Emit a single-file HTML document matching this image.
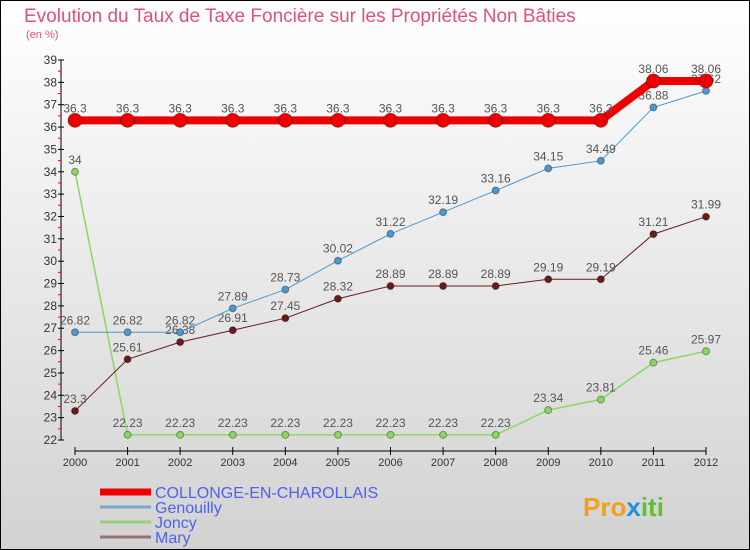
<!DOCTYPE html>
<html><head><meta charset="utf-8"><style>
body{margin:0;}
#wrap{position:relative;width:750px;height:550px;overflow:hidden;background:linear-gradient(#ffffff,#d2d2d2);font-family:"Liberation Sans",sans-serif;}
svg text{font-family:"Liberation Sans",sans-serif;}
</style></head><body>
<div id="wrap">
<svg id="svg" width="750" height="550">
<rect x="0.5" y="0.5" width="749" height="549" fill="none" stroke="#000"/>
<text x="24" y="22" font-size="19" fill="#e0507a">Evolution du Taux de Taxe Foncière sur les Propriétés Non Bâties</text>
<text x="26" y="38" font-size="11" fill="#e0507a">(en %)</text>
<g id="axes"></g><g id="series"></g><g id="legend"></g>
<text x="583" y="516" font-size="26" font-weight="bold" fill="#f0a020">Pro<tspan fill="#2090e0">x</tspan><tspan fill="#60c030">iti</tspan></text>
</svg>
</div>
<script>
const years=[2000,2001,2002,2003,2004,2005,2006,2007,2008,2009,2010,2011,2012];
const collonge=[36.3,36.3,36.3,36.3,36.3,36.3,36.3,36.3,36.3,36.3,36.3,38.06,38.06];
const genouilly=[26.82,26.82,26.82,27.89,28.73,30.02,31.22,32.19,33.16,34.15,34.49,36.88,37.62];
const joncy=[34,22.23,22.23,22.23,22.23,22.23,22.23,22.23,22.23,23.34,23.81,25.46,25.97];
const mary=[23.3,25.61,26.38,26.91,27.45,28.32,28.89,28.89,28.89,29.19,29.19,31.21,31.99];
const yTicks=[22,23,24,25,26,27,28,29,30,31,32,33,34,35,36,37,38,39];
const NS="http://www.w3.org/2000/svg";
const X=i=>75+i*(706-75)/12;
const Y=v=>440-(v-22)*(380/17);
function mk(tag,attrs,parent,text){const e=document.createElementNS(NS,tag);for(const k in attrs)e.setAttribute(k,attrs[k]);if(text!==undefined)e.textContent=text;parent.appendChild(e);return e;}
const ax=document.getElementById('axes');
let l=mk('line',{x1:61,y1:60,x2:61,y2:440,stroke:'#000'},ax);


l=mk('line',{x1:75,y1:451,x2:706,y2:451,stroke:'#000'},ax);


yTicks.forEach(v=>{
  const t=mk('line',{x1:58,y1:Y(v),x2:64,y2:Y(v),stroke:'#000'},ax);
  
  
  if(v<39){const m=mk('line',{x1:58,y1:Y(v+0.5),x2:61,y2:Y(v+0.5),stroke:'#f00'},ax);
  
  }
  const tx=mk('text',{x:57,y:Y(v)+4,'font-size':12,fill:'#333','text-anchor':'end'},ax,String(v));
  
  
});
years.forEach((y,i)=>{
  const t=mk('line',{x1:X(i),y1:447,x2:X(i),y2:455,stroke:'#000'},ax);
  
  
  const tx=mk('text',{x:X(i),y:466,'font-size':11,fill:'#333','text-anchor':'middle'},ax,String(y));
  
  
});
const sg=document.getElementById('series');
function series(vals,color,w,r,name){
  const g=mk('g',{},sg);
  
  
  const p=mk('polyline',{points:vals.map((v,i)=>X(i)+','+Y(v)).join(' '),fill:'none',stroke:color,'stroke-width':w},g);
  
  
  vals.forEach((v,i)=>{
    const c=mk('circle',{cx:X(i),cy:Y(v),r:r,fill:color,stroke:'rgba(0,0,0,0.35)'},g);
    
    
    const t=mk('text',{x:X(i),y:Y(v)-8,'font-size':12,fill:'#555','text-anchor':'middle'},g,String(v));
    
    
  });
}
series(joncy,'#88d860',1.5,3.5,'joncy');
series(mary,'#6a1a1a',1,3.5,'mary');
series(genouilly,'#4a98d0',1,3.5,'genouilly');
series(collonge,'#ee0000',8,7,'collonge');
const lg=document.getElementById('legend');
const items=[['COLLONGE-EN-CHAROLLAIS','#ee0000',7,'legend-collonge'],['Genouilly','#7aa8c8',3,'legend-genouilly'],['Joncy','#98d078',3,'legend-joncy'],['Mary','#987070',3,'legend-mary']];
items.forEach((it,i)=>{
  const y=492+i*15;
  const ln=mk('line',{x1:100,y1:y,x2:151,y2:y,stroke:it[1],'stroke-width':it[2]},lg);
  
  
  const t=mk('text',{x:155,y:y+6,'font-size':16,fill:'#5060f0'},lg,it[0]);
  
  
});
</script>
</body></html>
